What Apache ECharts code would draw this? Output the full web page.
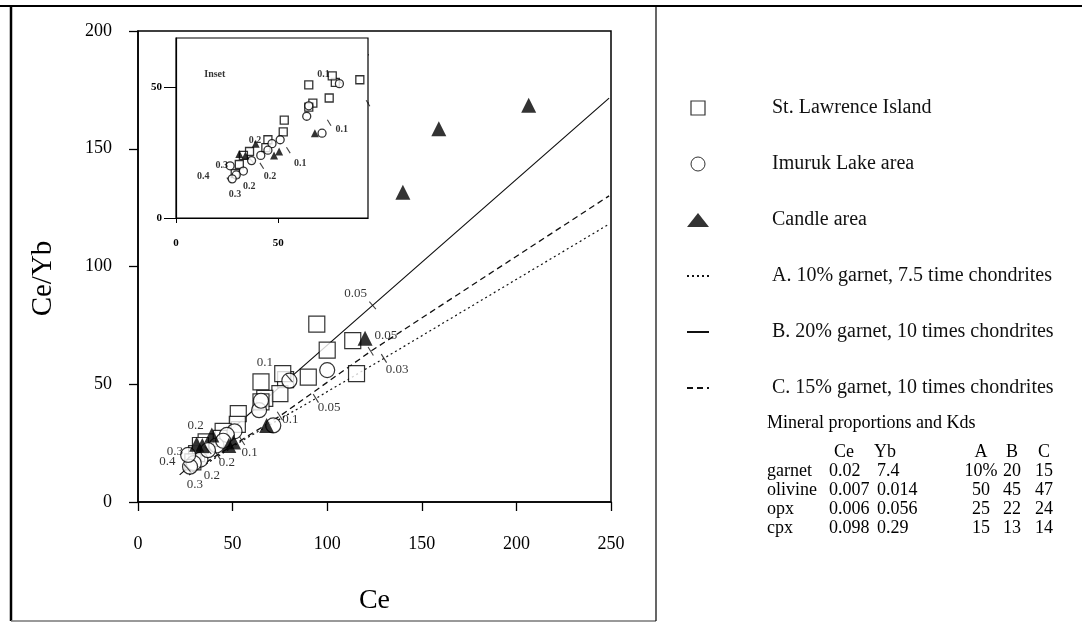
<!DOCTYPE html>
<html><head><meta charset="utf-8">
<script src="https://cdn.jsdelivr.net/npm/echarts@6/dist/echarts.min.js"></script>
<style>html,body{margin:0;padding:0;background:#fff}#c{width:1082px;height:623px}</style>
</head><body><div id="c"></div>
<script>
// ---- data ----
const stLawrence = [[94.5,75.5],[100,64.5],[113.5,68.5],[115.5,54.5],[90,53],[78,52],[76.5,54.5],[65,51],[75,46],[67,44],[65,42.5],[53,37.5],[52.5,33],[45,30],[36,25.5],[31,20.5],[29,17],[33,24],[44,27]];
const imuruk = [[100,56],[80,51.5],[64,39],[71.5,32.5],[51,30],[47,28.5],[41.5,24],[33,18],[29.5,16.5],[27.5,15],[26.5,20],[37,22],[45,26],[65,43]];
const candle = [[206.5,168.5],[159,158.5],[140,131.5],[120,69.5],[68,32.5],[39,28.5],[50.5,25.5],[31,24.5],[34,24],[48,24]];
const modelA = [[27,11.5],[55,26],[94,44],[130,61],[249,118]];
const modelB = [[22,11.5],[37,22],[80,52.5],[124,83.5],[249,171.5]];
const modelC = [[27,12],[42,20],[75,36.5],[123,64],[249,130]];
const ticksB = [[26,14.5],[37,22],[80,52.5],[124,83.5]];
const ticksAC = [[55,26],[94,44],[130,61],[42,20],[75,36.5],[123,64]];
const meltLabels = [[115,88.5,'0.05'],[67,59,'0.1'],[30.5,32.5,'0.2'],[19.5,21.5,'0.3'],[15.5,17,'0.4'],[131,70.5,'0.05'],[80.5,34.8,'0.1'],[47,16.8,'0.2'],[30,7.2,'0.3'],[137,56.4,'0.03'],[101,40,'0.05'],[59,21,'0.1'],[39,11.3,'0.2']];
const insetLabels = [[13.4,15.8,'0.4'],[22.4,20.2,'0.3'],[28.9,9.2,'0.3'],[35.9,12,'0.2'],[46,15.8,'0.2'],[38.7,29.8,'0.2'],[60.8,20.9,'0.1'],[81.2,33.8,'0.1'],[72.2,55.2,'0.1'],[19,55,'Inset']];
const legendNames = ['St. Lawrence Island','Imuruk Lake area','Candle area','A. 10% garnet, 7.5 time chondrites','B. 20% garnet, 10 times chondrites','C. 15% garnet, 10 times chondrites'];
const tableTitle = 'Mineral proportions and Kds';
const tableHeader = ['', 'Ce', 'Yb', 'A', 'B', 'C'];
const tableRows = [
  ['garnet','0.02','7.4','10%','20','15'],
  ['olivine','0.007','0.014','50','45','47'],
  ['opx','0.006','0.056','25','22','24'],
  ['cpx','0.098','0.29','15','13','14']
];

// ---- chart ----
const SERIF = 'Liberation Serif, Times New Roman, serif';
const chart = echarts.init(document.getElementById('c'), null, {renderer:'canvas'});
const hollow = {color:'#fff', borderColor:'#000', borderWidth:1.2};
function pts(series, size, sym, style, xi, name, z){
  return {type:'scatter', name:name, xAxisIndex:xi, yAxisIndex:xi, data:series, symbol:sym, symbolSize:size, symbolKeepAspect:true, itemStyle:style, z:z||3, silent:true};
}
function line(data, xi, name, type, w){
  return {type:'line', name:name, xAxisIndex:xi, yAxisIndex:xi, data:data, symbol:'none', showSymbol:false, smooth:false,
    itemStyle:{color:'#111'}, lineStyle:{color:'#111', width:w, type:type}, z:2, silent:true, clip:true};
}
function tickMarks(data, xi, rot, len){
  return {type:'scatter', xAxisIndex:xi, yAxisIndex:xi, data:data, symbol:'rect', symbolSize:[1.1,len], symbolRotate:rot, itemStyle:{color:'#111'}, z:4, silent:true};
}
function labels(data, xi, size, weight){
  return {type:'scatter', xAxisIndex:xi, yAxisIndex:xi, data:data, symbolSize:0, z:5, silent:true,
    label:{show:true, position:'inside', formatter:p=>p.value[2], fontFamily:SERIF, fontSize:size, fontWeight:weight, color:'#000'}};
}
const axisCommon = (fs, margin) => ({
  axisLine:{show:true, onZero:false, lineStyle:{color:'#000', width:1.5}},
  axisTick:{show:true, inside:false, length:9, lineStyle:{color:'#000', width:1.3}},
  axisLabel:{color:'#000', fontFamily:SERIF, fontSize:fs, margin:margin},
  splitLine:{show:false}
});

const g = [];
// outer frame
g.push({type:'line', shape:{x1:0,y1:6,x2:1082,y2:6}, style:{stroke:'#000', lineWidth:2}});
g.push({type:'line', shape:{x1:11,y1:5,x2:11,y2:621}, style:{stroke:'#000', lineWidth:2.5}});
g.push({type:'line', shape:{x1:11,y1:621,x2:656,y2:621}, style:{stroke:'#777', lineWidth:1.5}});
g.push({type:'line', shape:{x1:656,y1:6,x2:656,y2:621}, style:{stroke:'#000', lineWidth:1.2}});
// table
const colX = [767, 829, 877, 981, 1012, 1044];
const colAlign = ['left','left','left','center','center','center'];
g.push({type:'text', x:767, y:423, style:{text:tableTitle, font:'18px '+SERIF, fill:'#000', verticalAlign:'middle'}});
const rowsAll = [tableHeader].concat(tableRows);
rowsAll.forEach((r, i) => {
  r.forEach((t, j) => {
    if (!t) return;
    const xx = (i===0 && j===1) ? 834 : (i===0 && j===2) ? 874 : colX[j];
    g.push({type:'text', x:xx, y:452 + i*19, style:{text:t, font:'18px '+SERIF, fill:'#000', align:colAlign[j], verticalAlign:'middle'}});
  });
});

const hideSym = {color:'rgba(0,0,0,0)', borderColor:'rgba(0,0,0,0)', borderWidth:0};
chart.setOption({
  animation:false,
  backgroundColor:'#fff',
  grid:[
    {left:138, top:31, width:473, height:471, show:true, borderColor:'#000', borderWidth:1.5, backgroundColor:'transparent'},
    {left:176, top:38, width:192, height:180, show:true, borderColor:'#000', borderWidth:1.2, backgroundColor:'#fff', z:3}
  ],
  xAxis:[
    Object.assign({gridIndex:0, type:'value', min:0, max:250, interval:50, name:'Ce', nameLocation:'middle', nameGap:85,
      nameTextStyle:{fontFamily:SERIF, fontSize:28, color:'#000'}}, axisCommon(18, 33)),
    Object.assign({gridIndex:1, type:'value', min:0, max:94, interval:50, z:4}, axisCommon(11, 16),
      {axisLabel:{color:'#000', fontFamily:SERIF, fontSize:11, fontWeight:'bold', margin:20, showMaxLabel:false}, axisTick:{show:true, length:5, lineStyle:{color:'#000'}}, axisLine:{lineStyle:{color:'#000', width:1.2}}})
  ],
  yAxis:[
    Object.assign({gridIndex:0, type:'value', min:0, max:200, interval:50, name:'Ce/Yb', nameLocation:'middle', nameGap:80, nameRotate:90,
      nameTextStyle:{fontFamily:SERIF, fontSize:29, color:'#000', padding:[0,24,0,0]}}, axisCommon(18, 26)),
    Object.assign({gridIndex:1, type:'value', min:0, max:69, interval:50, z:4}, axisCommon(11, 12),
      {axisLabel:{color:'#000', fontFamily:SERIF, fontSize:11, fontWeight:'bold', margin:14, showMaxLabel:false}, axisTick:{show:true, length:12, lineStyle:{color:'#000'}}, axisLine:{lineStyle:{color:'#000', width:1.2}}})
  ],
  legend:{
    data:[
      {name:legendNames[0], icon:'path://M0,0H10V10H0Z', itemStyle:{color:'#fff', borderColor:'#000', borderWidth:1.2}},
      {name:legendNames[1], itemStyle:{borderWidth:1}},
      {name:legendNames[2]},
      {name:legendNames[3], itemStyle:hideSym},
      {name:legendNames[4], itemStyle:hideSym},
      {name:legendNames[5], itemStyle:hideSym}
    ],
    orient:'vertical', left:681, top:93, itemWidth:22, itemHeight:14, itemGap:36,
    symbolKeepAspect:true,
    selectedMode:false,
    textStyle:{fontFamily:SERIF, fontSize:20, color:'#111', padding:[0,0,0,58]}
  },
  series:[
    line(modelA, 0, legendNames[3], [2,3], 1.2),
    line(modelB, 0, legendNames[4], 'solid', 1.2),
    line(modelC, 0, legendNames[5], [6,4], 1.3),
    pts(stLawrence, 16, 'rect', hollow, 0, legendNames[0]),
    pts(imuruk, 15, 'circle', hollow, 0, legendNames[1]),
    pts(candle, 15, 'triangle', {color:'#000'}, 0, legendNames[2]),
    tickMarks(ticksB, 0, 41, 10),
    tickMarks(ticksAC, 0, 32, 10),
    labels(meltLabels, 0, 13, 'normal'),
    // inset
    line(modelA, 1, 'iA', [2,2], 1),
    line(modelB, 1, 'iB', 'solid', 1),
    line(modelC, 1, 'iC', [4,3], 1.1),
    pts(stLawrence, 8, 'rect', {color:'#fff', borderColor:'#000', borderWidth:1.3}, 1, 'iS', 6),
    pts(imuruk, 8, 'circle', {color:'#fff', borderColor:'#000', borderWidth:1.3}, 1, 'iI', 6),
    pts(candle, 8, 'triangle', {color:'#000'}, 1, 'iT', 6),
    tickMarks(ticksB, 1, 41, 7),
    tickMarks(ticksAC, 1, 32, 7),
    Object.assign(labels(insetLabels, 1, 10, 'bold'), {z:7})
  ],
  graphic:g
});
</script></body></html>
